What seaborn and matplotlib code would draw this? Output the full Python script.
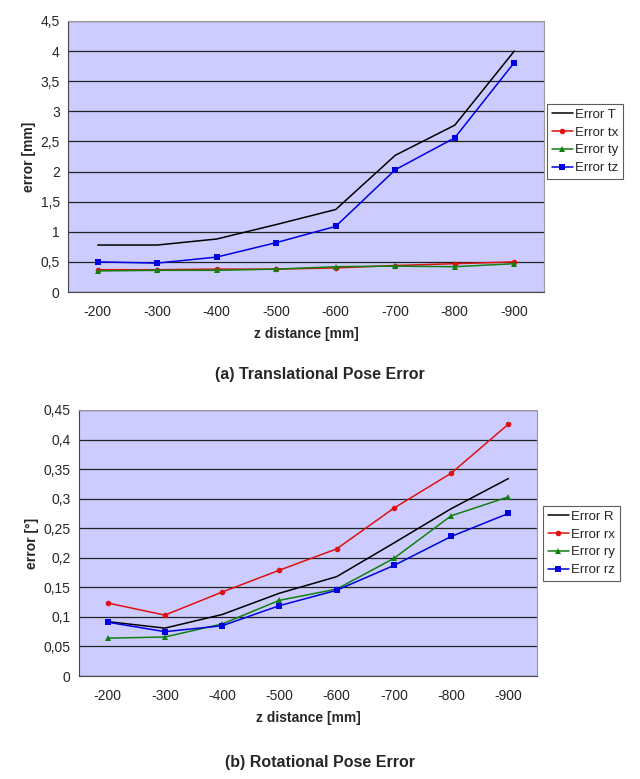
import numpy as np
import pandas as pd
import matplotlib
matplotlib.use("Agg")
import matplotlib.pyplot as plt
import seaborn as sns
from matplotlib.ticker import FuncFormatter, FixedLocator

categories = ["-200", "-300", "-400", "-500", "-600", "-700", "-800", "-900"]

err_T = [0.78, 0.78, 0.88, 1.12, 1.37, 2.27, 2.77, 4.00]
err_tx = [0.37, 0.37, 0.38, 0.38, 0.40, 0.44, 0.47, 0.50]
err_ty = [0.35, 0.36, 0.36, 0.38, 0.42, 0.43, 0.42, 0.47]
err_tz = [0.50, 0.48, 0.58, 0.82, 1.09, 2.03, 2.56, 3.81]

err_R = [0.092, 0.081, 0.104, 0.140, 0.168, 0.225, 0.283, 0.334]
err_rx = [0.1235, 0.103, 0.142, 0.179, 0.215, 0.284, 0.343, 0.426]
err_ry = [0.064, 0.066, 0.088, 0.128, 0.147, 0.199, 0.271, 0.303]
err_rz = [0.091, 0.075, 0.085, 0.119, 0.145, 0.187, 0.236, 0.275]

sns.set_style("white")
plt.rcParams['font.family'] = ['Liberation Sans', 'DejaVu Sans']

fig = plt.figure(figsize=(6.4, 7.79), dpi=100)
W, H = 640, 779

def ax_at(x0, y0, x1, y1):
    return fig.add_axes([x0 / W, 1 - y1 / H, (x1 - x0) / W, (y1 - y0) / H])

ax1 = ax_at(68, 21, 544, 292)
ax2 = ax_at(79, 410, 537, 676)

series_styles = [("k", None), ("#e01010", "o"), ("#108010", "^"), ("#0000e0", "s")]

def draw(ax, names, values, ymax, ystep, ylabel, legend_box):
    ax.set_facecolor("#CCCCFF")
    for name, vals, (col, mk) in zip(names, values, series_styles):
        df = pd.DataFrame({"z": categories, "err": vals})
        sns.lineplot(data=df, x="z", y="err", ax=ax, color=col, marker=mk,
                     markersize=4 if mk != "^" else 4.5, markeredgewidth=0,
                     linewidth=1.1, label=name, sort=False)
    ax.set_xlim(-0.5, len(categories) - 0.5)
    ax.set_ylim(0, ymax)
    yt = np.arange(0, ymax + ystep / 2, ystep)
    ax.set_yticks(yt)
    ax.yaxis.set_major_formatter(FuncFormatter(lambda v, p: ("%g" % round(v, 3)).replace(".", ",")))
    ax.set_xticks(range(len(categories)))
    ax.set_xticklabels(categories)
    ax.xaxis.set_minor_locator(FixedLocator(np.arange(-0.5, len(categories), 1.0)))
    ax.tick_params(axis="x", which="major", length=0, pad=9, labelsize=10)
    ax.tick_params(axis="x", which="minor", length=4, width=0.8, color="#444444", direction="out")
    ax.tick_params(axis="y", which="major", length=4, width=0.8, color="#444444", direction="out", labelsize=10, pad=2)
    ax.grid(axis="y", color="#222222", linewidth=0.9)
    ax.grid(axis="x", visible=False)
    ax.set_axisbelow(True)
    for s in ["top", "right"]:
        ax.spines[s].set_color("#999999")
        ax.spines[s].set_linewidth(0.8)
    for s in ["left", "bottom"]:
        ax.spines[s].set_color("#444444")
        ax.spines[s].set_linewidth(0.8)
    ax.set_xlabel("z distance [mm]", fontsize=10, fontweight="bold", labelpad=6)
    ax.set_ylabel(ylabel, fontsize=10, fontweight="bold", labelpad=3)
    x0, y0, x1, y1 = legend_box
    leg = ax.legend(loc="upper left",
                    bbox_to_anchor=(x0 / W, 1 - y0 / H), bbox_transform=fig.transFigure,
                    frameon=True, fancybox=False, fontsize=9.5, handlelength=1.6,
                    handletextpad=0.2, borderpad=0.35, labelspacing=0.42, borderaxespad=0)
    leg.get_frame().set_edgecolor("#333333")
    leg.get_frame().set_linewidth(0.8)

draw(ax1, ["Error T", "Error tx", "Error ty", "Error tz"], [err_T, err_tx, err_ty, err_tz],
     4.5, 0.5, "error [mm]", (547, 104, 621, 179))
draw(ax2, ["Error R", "Error rx", "Error ry", "Error rz"], [err_R, err_rx, err_ry, err_rz],
     0.45, 0.05, "error [°]", (543, 506, 617, 580))

fig.text(0.5, 1 - 375 / H, "(a) Translational Pose Error", ha="center", va="center",
         fontsize=11.5, fontweight="bold")
fig.text(0.5, 1 - 762 / H, "(b) Rotational Pose Error", ha="center", va="center",
         fontsize=11.5, fontweight="bold")

fig.savefig("out.png", dpi=100, facecolor="white")
